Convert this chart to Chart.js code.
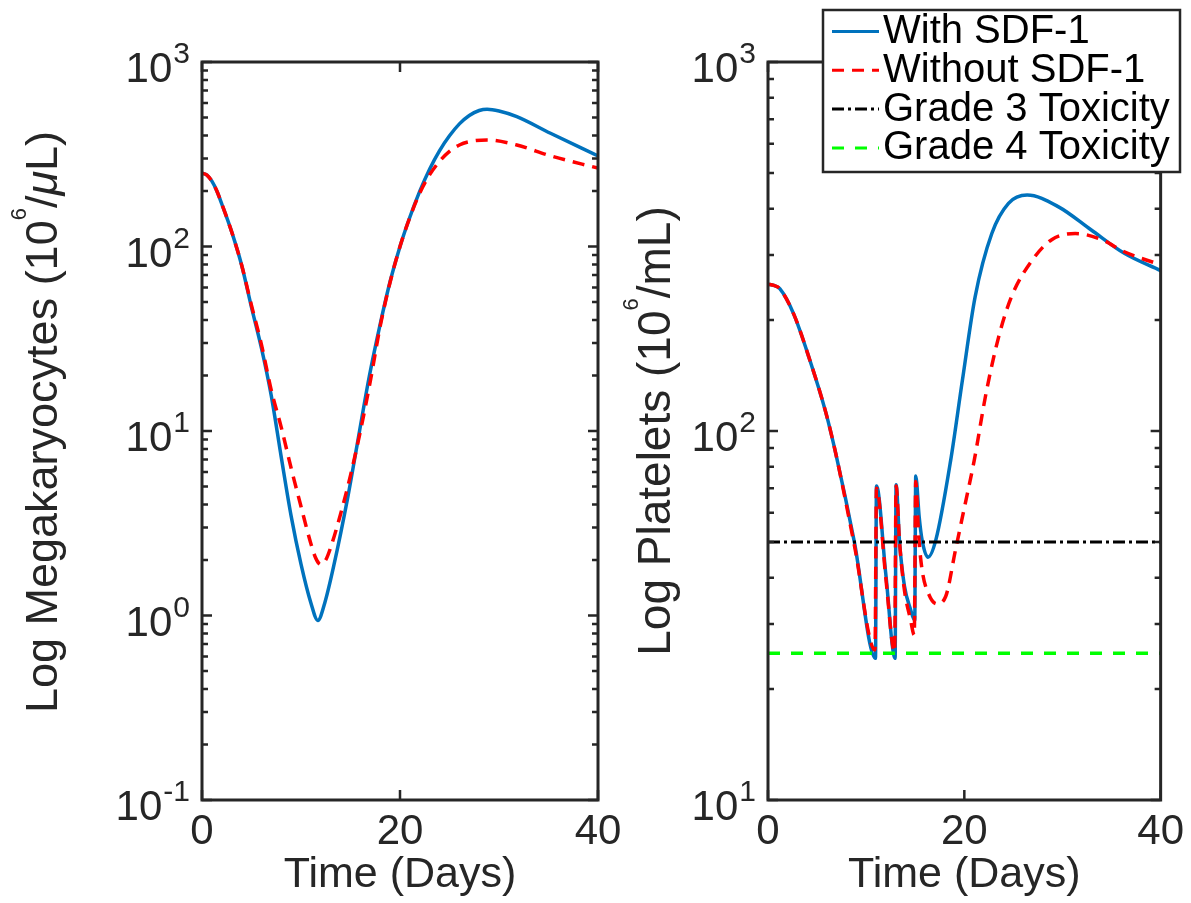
<!DOCTYPE html>
<html>
<head>
<meta charset="utf-8">
<script src="https://cdn.jsdelivr.net/npm/chart.js@4.4.1/dist/chart.umd.min.js"></script>
<style>
html, body { margin:0; padding:0; background:#fff; width:1191px; height:903px; overflow:hidden; }
#c1 { position:absolute; left:0; top:0; width:640px; height:903px; }
#c2 { position:absolute; left:600px; top:0; width:591px; height:903px; }
</style>
</head>
<body>
<canvas id="c1" width="640" height="903"></canvas>
<canvas id="c2" width="591" height="903"></canvas>
<script>
// ---------------- data ----------------
const megaDaysWith = [0, 0.5, 1, 1.5, 2, 3, 4, 5, 6, 7, 8, 9, 10, 11, 11.7, 12.4, 13.3, 14.7, 15.7, 16.9, 18, 19, 20, 21, 22, 23, 24, 25, 26, 27, 28, 28.8, 30, 31.8, 35.2, 40];
const megaWith     = [250, 244, 226, 200, 170, 120, 79.4, 46.8, 28.2, 15.5, 7.24, 3.47, 1.9, 1.17, 0.94, 1.17, 1.85, 4.3, 8.6, 19.8, 38, 64.6, 100, 144.5, 199.5, 263, 331, 398, 462, 513, 546, 555, 543, 506, 411, 310];
const megaDaysWithout = [0, 0.5, 1, 1.5, 2, 3, 4, 5, 6, 7, 8, 9, 10, 11, 11.5, 12, 12.5, 13, 14, 15, 16, 17, 18, 19, 20, 21, 22, 23, 24, 25, 26, 27, 28.8, 31.8, 35.2, 40];
const megaWithout     = [250, 244, 226, 200, 170, 120, 79.4, 47.9, 29.5, 16.6, 10.5, 6.3, 3.9, 2.45, 2.04, 1.89, 2.0, 2.34, 3.55, 5.75, 10, 18.6, 37, 64, 100, 144, 195, 245, 290, 328, 355, 370, 378, 355, 310, 266];

const pltDaysWith = [0, 0.6, 1.2, 2.6, 4.25, 5.9, 6.9, 8.8, 10.95, 11.05, 12.0, 12.95, 13.05, 13.4, 13.9, 14.5, 14.95, 15.05, 15.4, 15.7, 16.3, 17.1, 18.6, 19.8, 21.1, 22.8, 24.5, 26.4, 29.6, 32.9, 36.3, 40];
const pltWith     = [250, 248, 243, 208, 156, 112, 87, 50, 24.2, 71, 41, 24.2, 71.5, 50, 38, 33, 30.7, 75.5, 58.6, 50.6, 45.5, 50.7, 83, 137, 231, 343, 414, 436, 405, 351, 303, 272];
const pltDaysWithout = [0, 0.6, 1.2, 2.6, 4.25, 5.9, 6.9, 8.8, 10.9, 11.05, 12.0, 12.9, 13.05, 13.4, 13.9, 14.5, 14.9, 15.05, 15.35, 15.7, 16.4, 17.2, 18.1, 19.1, 20.1, 21.0, 22.2, 23.5, 24.8, 26.9, 28.9, 31.3, 34.0, 36.3, 40];
const pltWithout     = [250, 248, 243, 208, 156, 112, 87, 49, 25.5, 70, 40, 25.2, 71, 50, 37, 31, 28, 73, 52, 42, 36, 34, 35.6, 47.6, 63.7, 83, 126, 180, 231, 290, 330, 343, 330, 306, 282];

const thresholdDays = [0, 40];
const grade3Level = 50;
const grade4Level = 25;

const seriesLabels = ['With SDF-1', 'Without SDF-1', 'Grade 3 Toxicity', 'Grade 4 Toxicity'];
const xTickValues = [0, 20, 40];
const megaMajorTicks = [0.1, 1, 10, 100, 1000];
const megaTickExponents = ['-1', '0', '1', '2', '3'];
const pltMajorTicks = [10, 100, 1000];
const pltTickExponents = ['1', '2', '3'];
const minorMultipliers = [2, 3, 4, 5, 6, 7, 8, 9];

const megaTitleParts = ['Log Megakaryocytes (10', '6', '/', '\u03bc', 'L)'];
const pltTitleParts = ['Log Platelets (10', '6', '/mL)'];
const xTitle = 'Time (Days)';

// ---------------- style ----------------
const FONT = '"Liberation Sans", Arial, Helvetica, sans-serif';
const AX = '#262626';
const BLUE = '#0072BD', RED = '#FF0000', GREEN = '#00FF00', BLACK = '#000000';

function pts(xs, ys) { return xs.map((d, i) => ({ x: d, y: ys[i] })); }

function logTicks(majors) {
  const out = [];
  for (let i = 0; i < majors.length; i++) {
    out.push({ value: majors[i], major: true });
    if (i < majors.length - 1) {
      for (const m of minorMultipliers) out.push({ value: m * majors[i], major: false });
    }
  }
  return out;
}

function makeAxesPlugin(majors, exps, titleSegs, titleX, titleY) {
  return {
    id: 'matlabAxes',
    afterDatasetsDraw(chart) {
      const { ctx, chartArea: a, scales: { x, y } } = chart;
      ctx.save();
      ctx.strokeStyle = AX;
      ctx.lineWidth = 2.5;
      ctx.beginPath();
      for (const t of y.ticks) {
        const py = y.getPixelForValue(t.value);
        const len = t.major ? 10 : 6;
        ctx.moveTo(a.left, py); ctx.lineTo(a.left + len, py);
        ctx.moveTo(a.right, py); ctx.lineTo(a.right - len, py);
      }
      for (const t of x.ticks) {
        const px = x.getPixelForValue(t.value);
        ctx.moveTo(px, a.bottom); ctx.lineTo(px, a.bottom - 10);
        ctx.moveTo(px, a.top); ctx.lineTo(px, a.top + 10);
      }
      ctx.stroke();
      ctx.lineWidth = 3;
      ctx.strokeRect(a.left, a.top, a.right - a.left, a.bottom - a.top);

      // y tick labels 10^n
      ctx.fillStyle = AX;
      ctx.textBaseline = 'alphabetic';
      for (let i = 0; i < majors.length; i++) {
        const py = y.getPixelForValue(majors[i]);
        const xr = a.left - 12;
        ctx.font = '30px ' + FONT;
        const ew = ctx.measureText(exps[i]).width;
        ctx.textAlign = 'left';
        ctx.fillText(exps[i], xr - ew, py + 1);
        ctx.font = '42px ' + FONT;
        ctx.textAlign = 'right';
        ctx.fillText('10', xr - ew - 1, py + 20);
      }

      // rotated y title with superscript
      ctx.save();
      ctx.translate(titleX, titleY);
      ctx.rotate(-Math.PI / 2);
      ctx.textAlign = 'left';
      let total = 0;
      const widths = titleSegs.map(s => { ctx.font = s.font; const w = ctx.measureText(s.text).width; total += w; return w; });
      let cx = -total / 2;
      titleSegs.forEach((s, i) => { ctx.font = s.font; ctx.fillText(s.text, cx, s.dy); cx += widths[i]; });
      ctx.restore();
      ctx.restore();
    }
  };
}

const legendPlugin = {
  id: 'matlabLegend',
  afterDraw(chart) {
    const ctx = chart.ctx;
    const L = 223, T = 10, R = 580, B = 172;
    ctx.save();
    ctx.fillStyle = '#fff';
    ctx.fillRect(L, T, R - L, B - T);
    ctx.strokeStyle = AX;
    ctx.lineWidth = 2.5;
    ctx.strokeRect(L, T, R - L, B - T);
    chart.data.datasets.forEach((ds, i) => {
      const base = 43 + i * 38.8;
      const ly = base - 11.5;
      ctx.setLineDash(ds.borderDash || []);
      ctx.strokeStyle = ds.borderColor;
      ctx.lineWidth = 3;
      ctx.beginPath(); ctx.moveTo(232, ly); ctx.lineTo(279, ly); ctx.stroke();
      ctx.setLineDash([]);
      ctx.fillStyle = '#000';
      ctx.font = '40px ' + FONT;
      ctx.textAlign = 'left';
      ctx.textBaseline = 'alphabetic';
      ctx.fillText(ds.label, 283, base);
    });
    ctx.restore();
  }
};

function xScale(height) {
  return {
    type: 'linear', min: 0, max: 40,
    afterBuildTicks: s => { s.ticks = xTickValues.map(v => ({ value: v })); },
    grid: { display: false, drawTicks: false },
    border: { display: false },
    ticks: { color: AX, font: { family: FONT, size: 42 }, padding: 7, maxRotation: 0, autoSkip: false, callback: v => String(v) },
    title: { display: true, text: xTitle, color: AX, font: { family: FONT, size: 43 }, padding: { top: 0, bottom: 2 } },
    afterFit: s => { s.height = height; }
  };
}

function yScale(min, max, majors, width) {
  return {
    type: 'logarithmic', min: min, max: max,
    afterBuildTicks: s => { s.ticks = logTicks(majors); },
    grid: { display: false, drawTicks: false },
    border: { display: false },
    ticks: { display: false },
    afterFit: s => { s.width = width; }
  };
}

const common = {
  responsive: false,
  animation: false,
  devicePixelRatio: 1,
  plugins: { legend: { display: false }, tooltip: { enabled: false } },
  elements: { point: { radius: 0 }, line: { cubicInterpolationMode: 'monotone' } }
};

// ---------------- left chart ----------------
new Chart(document.getElementById('c1'), {
  type: 'line',
  data: {
    datasets: [
      { label: seriesLabels[0], data: pts(megaDaysWith, megaWith), borderColor: BLUE, borderWidth: 3.5, order: 1 },
      { label: seriesLabels[1], data: pts(megaDaysWithout, megaWithout), borderColor: RED, borderWidth: 3.5, borderDash: [12, 8], order: 0 }
    ]
  },
  options: Object.assign({}, common, {
    layout: { padding: { top: 62, right: 42, bottom: 0, left: 0 } },
    scales: { x: xScale(103), y: yScale(0.1, 1000, megaMajorTicks, 202) }
  }),
  plugins: [makeAxesPlugin(megaMajorTicks, megaTickExponents, [
    { text: megaTitleParts[0], font: '45px ' + FONT, dy: 0 },
    { text: megaTitleParts[1], font: '22px ' + FONT, dy: -31 },
    { text: megaTitleParts[2], font: '45px ' + FONT, dy: 0 },
    { text: megaTitleParts[3], font: 'italic 45px ' + FONT, dy: 0 },
    { text: megaTitleParts[4], font: '45px ' + FONT, dy: 0 }
  ], 57, 422)]
});

// ---------------- right chart ----------------
new Chart(document.getElementById('c2'), {
  type: 'line',
  data: {
    datasets: [
      { label: seriesLabels[0], data: pts(pltDaysWith, pltWith), borderColor: BLUE, borderWidth: 3.5, order: 3 },
      { label: seriesLabels[1], data: pts(pltDaysWithout, pltWithout), borderColor: RED, borderWidth: 3.5, borderDash: [12, 8], order: 2 },
      { label: seriesLabels[2], data: pts(thresholdDays, thresholdDays.map(() => grade3Level)), borderColor: BLACK, borderWidth: 3, borderDash: [12, 4, 3, 4], order: 1 },
      { label: seriesLabels[3], data: pts(thresholdDays, thresholdDays.map(() => grade4Level)), borderColor: GREEN, borderWidth: 3.5, borderDash: [12, 11], order: 0 }
    ]
  },
  options: Object.assign({}, common, {
    layout: { padding: { top: 62, right: 28, bottom: 0, left: 0 } },
    scales: { x: xScale(103), y: yScale(10, 1000, pltMajorTicks, 168) }
  }),
  plugins: [makeAxesPlugin(pltMajorTicks, pltTickExponents, [
    { text: pltTitleParts[0], font: '46px ' + FONT, dy: 0 },
    { text: pltTitleParts[1], font: '22px ' + FONT, dy: -32 },
    { text: pltTitleParts[2], font: '46px ' + FONT, dy: 0 }
  ], 70, 431), legendPlugin]
});
</script>
</body>
</html>
